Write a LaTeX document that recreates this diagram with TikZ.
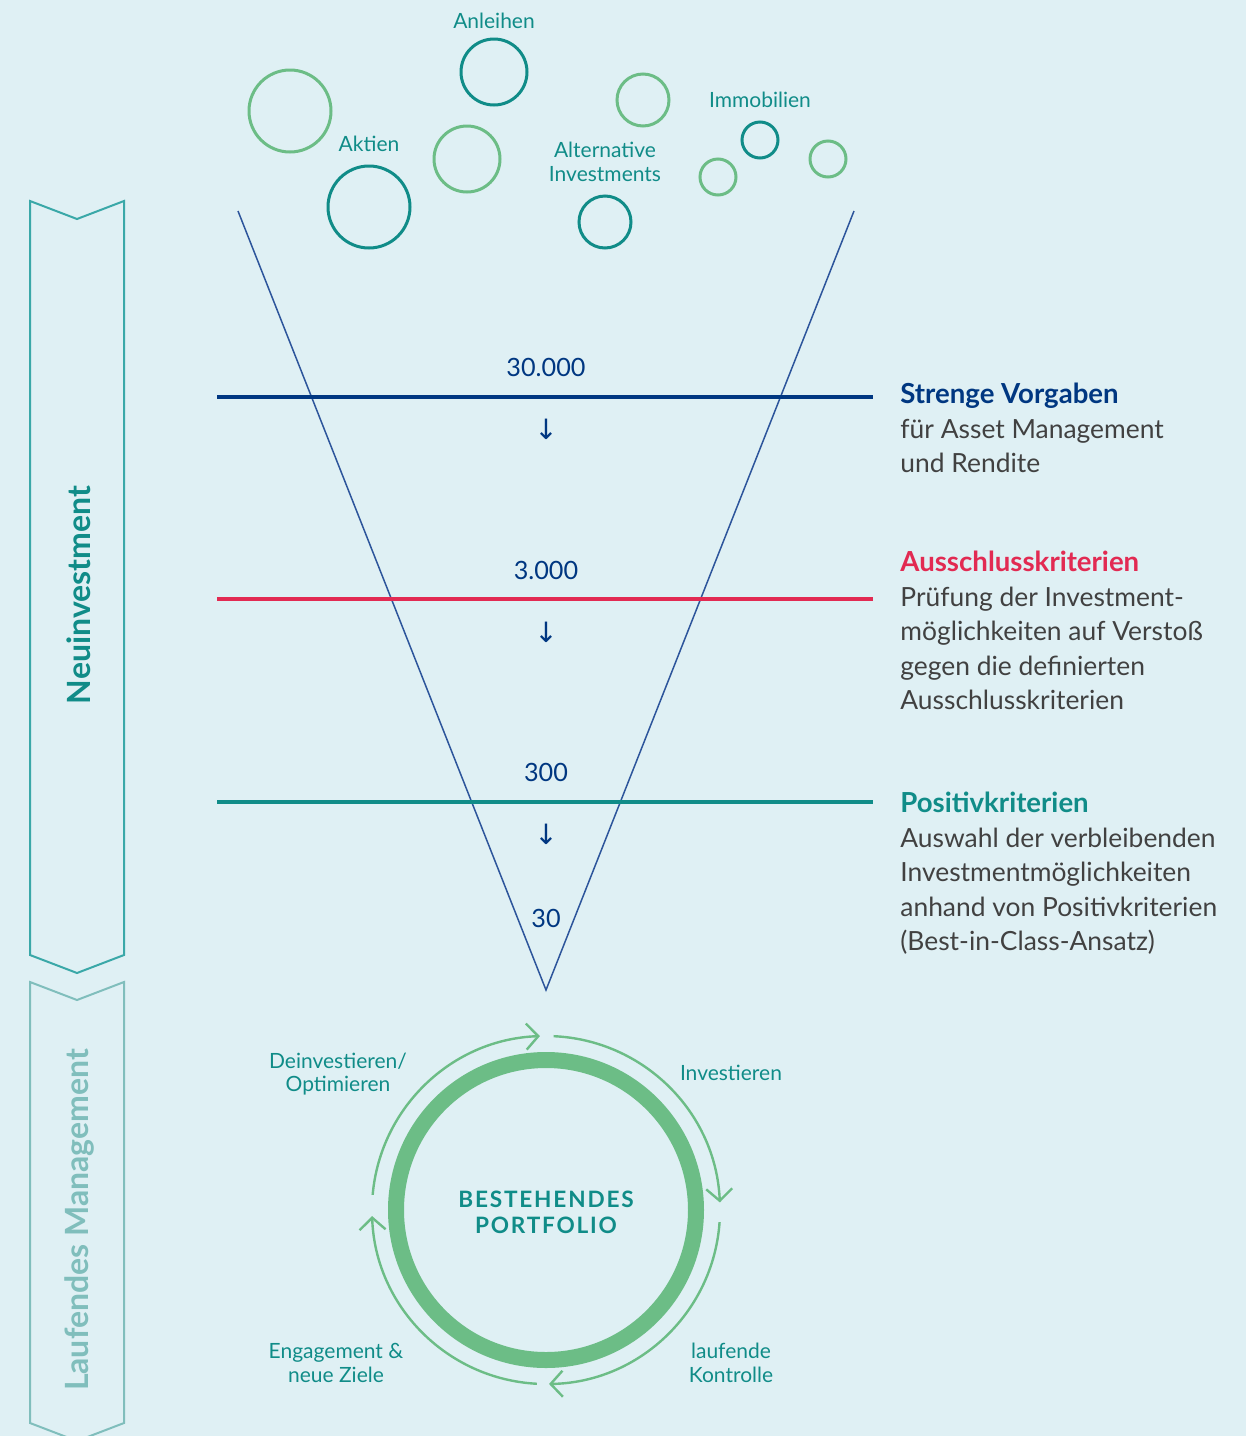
\documentclass[tikz,border=0pt]{standalone}
\usepackage{fontspec}
\setmainfont{Lato}
\newfontfamily\symfont{DejaVu Sans}
\usetikzlibrary{arrows.meta}
\definecolor{bg}{RGB}{223,240,244}
\definecolor{navy}{RGB}{0,55,129}
\definecolor{crimson}{RGB}{226,42,82}
\definecolor{teal1}{RGB}{16,140,136}
\definecolor{green1}{RGB}{108,189,134}
\definecolor{gray1}{RGB}{65,65,65}
\definecolor{funnelc}{RGB}{45,85,155}
\definecolor{lteal}{RGB}{128,190,188}
\definecolor{chev}{RGB}{58,168,168}
\begin{document}
\begin{tikzpicture}[x=0.5pt,y=0.5pt,
 bubbleG/.style={circle,draw=green1,line width=1.5pt,inner sep=0pt},
 bubbleT/.style={circle,draw=teal1,line width=1.5pt,inner sep=0pt},
 lbl/.style={text=teal1,font=\fontsize{10.5}{12}\selectfont,anchor=base,inner sep=0pt},
 num/.style={text=navy,font=\fontsize{12.6}{14}\selectfont,anchor=base,inner sep=0pt},
 darr/.style={text=navy,font=\symfont\fontsize{14}{16}\selectfont,anchor=center,inner sep=0pt},
 body/.style={text=gray1,font=\fontsize{13.2}{15}\selectfont,anchor=base west,inner sep=0pt},
 head/.style={font=\bfseries\fontsize{13.8}{15}\selectfont,anchor=base west,inner sep=0pt},
 filt/.style={line width=2pt},
 ring/.style={green1,line width=1.2pt,-{Straight Barb[length=6pt,width=13pt]}},
 side/.style={font=\bfseries\fontsize{16}{18}\selectfont,rotate=90,anchor=center,inner sep=0pt},
]
\fill[bg] (0,0) rectangle (1246,-1436);
\useasboundingbox (0,0) rectangle (1246,-1436);
\clip (0,0) rectangle (1246,-1436);

% left chevrons
\draw[chev,line width=1pt] (30,-201) -- (77,-219) -- (124,-201) -- (124,-955) -- (77,-973) -- (30,-955) -- cycle;
\draw[lteal,line width=1pt] (30,-982) -- (77,-1000) -- (124,-982) -- (124,-1423) -- (77,-1441) -- (30,-1423) -- cycle;
\node[side,text=teal1] (neu) at (79,-595) {Neuinvestment};
\node[side,text=lteal] (lauf) at (79,-1220) {Laufendes Management};

% bubbles
\node[bubbleG,minimum size=41pt] (b1) at (290,-111) {};
\node[bubbleT,minimum size=33pt] (b2) at (494,-72) {};
\node[bubbleG,minimum size=26pt] (b3) at (643,-100) {};
\node[bubbleT,minimum size=41pt] (b4) at (369,-207) {};
\node[bubbleG,minimum size=33pt] (b5) at (467,-159) {};
\node[bubbleT,minimum size=26pt] (b6) at (605,-222) {};
\node[bubbleT,minimum size=18pt] (b7) at (760,-140) {};
\node[bubbleG,minimum size=18pt] (b8) at (718,-177) {};
\node[bubbleG,minimum size=18pt] (b9) at (828,-159) {};
\node[lbl] (tanl) at (494,-28) {Anleihen};
\node[lbl] (takt) at (369,-151) {Aktien};
\node[lbl] (talt1) at (605,-157) {Alternative};
\node[lbl] (talt2) at (605,-181) {Investments};
\node[lbl] (timm) at (760,-107) {Immobilien};

% funnel
\coordinate (fl) at (238,-211);
\coordinate (ft) at (546,-990);
\coordinate (fr) at (854,-211);
\draw[funnelc,line width=0.75pt] (fl) -- (ft) -- (fr);

% filter lines
\coordinate (l1a) at (217,-397); \coordinate (l1b) at (873,-397);
\coordinate (l2a) at (217,-599); \coordinate (l2b) at (873,-599);
\coordinate (l3a) at (217,-802); \coordinate (l3b) at (873,-802);
\draw[filt,navy] (l1a) -- (l1b);
\draw[filt,crimson] (l2a) -- (l2b);
\draw[filt,teal1] (l3a) -- (l3b);

\node[num] (n1) at (546,-376) {30.000};
\node[num] (n2) at (546,-579) {3.000};
\node[num] (n3) at (546,-781) {300};
\node[num] (n4) at (546,-927) {30};
\node[darr] (a1) at (546,-429) {↓};
\node[darr] (a2) at (546,-632) {↓};
\node[darr] (a3) at (546,-834) {↓};

% right texts
\node[head,text=navy] (h1) at (900,-403) {Strenge Vorgaben};
\node[body] (h1a) at (900,-438) {für Asset Management};
\node[body] (h1b) at (900,-472) {und Rendite};
\node[head,text=crimson] (h2) at (900,-571) {Ausschlusskriterien};
\node[body] (h2a) at (900,-606) {Prüfung der Investment-};
\node[body] (h2b) at (900,-640) {möglichkeiten auf Verstoß};
\node[body] (h2c) at (900,-675) {gegen die definierten};
\node[body] (h2d) at (900,-709) {Ausschlusskriterien};
\node[head,text=teal1] (h3) at (900,-812) {Positivkriterien};
\node[body] (h3a) at (900,-847) {Auswahl der verbleibenden};
\node[body] (h3b) at (900,-881) {Investmentmöglichkeiten};
\node[body] (h3c) at (900,-916) {anhand von Positivkriterien};
\node[body] (h3d) at (900,-950) {(Best-in-Class-Ansatz)};

% cycle
\coordinate (C) at (546,-1210);
\draw[green1,line width=8pt] (C) circle[radius=150];
\draw[ring] ([shift={(C)}]87.5:174) arc[start angle=87.5,end angle=2.5,radius=174];
\draw[ring] ([shift={(C)}]-4:174) arc[start angle=-4,end angle=-89,radius=174];
\draw[ring] ([shift={(C)}]-93:174) arc[start angle=-93,end angle=-178,radius=174];
\draw[ring] ([shift={(C)}]175:174) arc[start angle=175,end angle=92,radius=174];
\node[text=teal1,font=\bfseries\fontsize{11.3}{13}\selectfont\addfontfeatures{LetterSpace=8},anchor=base,inner sep=0pt] (p1) at (546,-1207) {BESTEHENDES};
\node[text=teal1,font=\bfseries\fontsize{11.3}{13}\selectfont\addfontfeatures{LetterSpace=8},anchor=base,inner sep=0pt] (p2) at (546,-1233) {PORTFOLIO};
\node[lbl] (c1a) at (338,-1068) {Deinvestieren/};
\node[lbl] (c1b) at (338,-1091) {Optimieren};
\node[lbl] (c2) at (731,-1080) {Investieren};
\node[lbl] (c3a) at (336,-1358) {Engagement \&};
\node[lbl] (c3b) at (336,-1382) {neue Ziele};
\node[lbl] (c4a) at (731,-1358) {laufende};
\node[lbl] (c4b) at (731,-1382) {Kontrolle};
\end{tikzpicture}
\end{document}
